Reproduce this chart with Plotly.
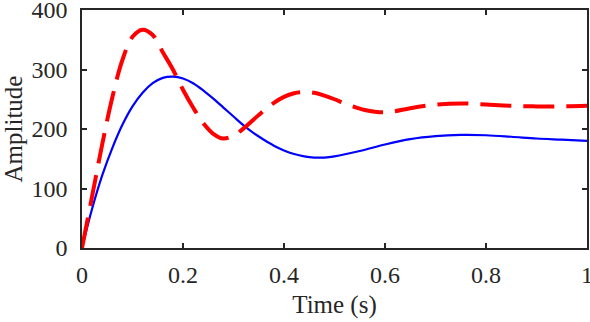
import plotly.graph_objects as go

# Time samples (s) and amplitudes
t_blue = [0.00, 0.02, 0.04, 0.06, 0.08, 0.10, 0.12, 0.14, 0.16, 0.18,
          0.20, 0.22, 0.24, 0.26, 0.28, 0.30, 0.32, 0.34, 0.36, 0.38,
          0.40, 0.42, 0.44, 0.46, 0.48, 0.50, 0.55, 0.60, 0.65, 0.70,
          0.75, 0.80, 0.85, 0.90, 0.95, 1.00]
y_blue = [0, 66, 122, 168, 207, 238, 261, 277, 286, 288,
          285, 277, 265, 251, 236, 221, 206, 193, 182, 172,
          164, 158, 154, 152, 152, 154, 163, 174, 183, 188,
          190, 189.5, 187, 184, 182, 180]

t_red = [0.00, 0.02, 0.04, 0.06, 0.08, 0.10, 0.12, 0.14, 0.16, 0.18,
         0.20, 0.22, 0.24, 0.26, 0.28, 0.30, 0.32, 0.34, 0.36, 0.38,
         0.40, 0.42, 0.44, 0.46, 0.48, 0.50, 0.52, 0.54, 0.56, 0.58,
         0.60, 0.62, 0.65, 0.70, 0.75, 0.80, 0.85, 0.90, 0.95, 1.00]
y_red = [0, 87, 174, 253, 316, 355, 367, 358, 329, 300,
         266, 236, 210, 192, 184, 189, 201, 216, 231, 244,
         254, 260, 262, 261, 256, 250, 243, 237, 232, 229,
         228, 230, 235, 241, 243, 241, 239, 238, 238, 239]

x_ticks = [0, 0.2, 0.4, 0.6, 0.8, 1]
x_ticklabels = ["0", "0.2", "0.4", "0.6", "0.8", "1"]
y_ticks = [0, 100, 200, 300, 400]
y_ticklabels = ["0", "100", "200", "300", "400"]

ink = "#262626"
font_family = "Liberation Serif, Times New Roman, serif"
tick_size = 24
title_size = 25

fig = go.Figure()
fig.add_trace(go.Scatter(x=t_blue, y=y_blue, mode="lines",
                         line=dict(color="#0000FF", width=2.2, shape="spline"),
                         showlegend=False))
fig.add_trace(go.Scatter(x=t_red, y=y_red, mode="lines",
                         line=dict(color="#FF0000", width=4, shape="spline",
                                   dash="31px,12px"),
                         showlegend=False))

axis_common = dict(showline=True, linewidth=1.6, linecolor=ink, mirror="ticks",
                   ticks="inside", ticklen=5, tickwidth=1.6, tickcolor=ink,
                   showgrid=False, zeroline=False, ticklabeloverflow="allow",
                   tickfont=dict(family=font_family, size=tick_size, color=ink))

fig.update_xaxes(range=[0, 1], tickvals=x_ticks, ticktext=x_ticklabels,
                 title=dict(text="Time (s)", font=dict(family=font_family, size=title_size, color=ink),
                            standoff=9),
                 ticklabelstandoff=4, **axis_common)
fig.update_yaxes(range=[0, 400], tickvals=y_ticks, ticktext=y_ticklabels,
                 title=dict(text="Amplitude", font=dict(family=font_family, size=title_size, color=ink),
                            standoff=15),
                 ticklabelstandoff=8, **axis_common)

fig.update_layout(width=590, height=322,
                  margin=dict(l=82, r=3, t=10, b=74, autoexpand=False),
                  paper_bgcolor="white", plot_bgcolor="white",
                  font=dict(family=font_family, color=ink))

fig.write_html("out.html", config={"displayModeBar": False},
               post_script="document.body.style.margin='0';document.body.style.overflow='hidden';")
